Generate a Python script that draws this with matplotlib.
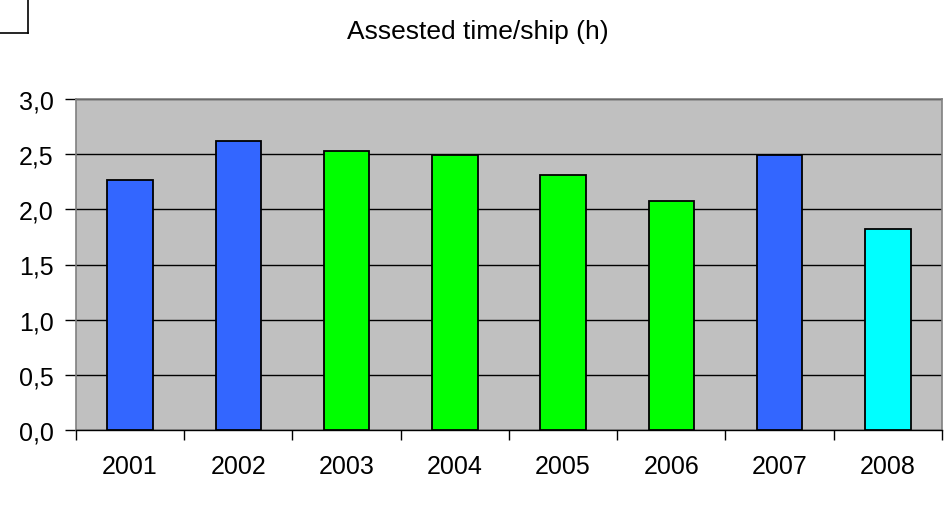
import matplotlib
matplotlib.use("Agg")
import matplotlib.pyplot as plt
from matplotlib.lines import Line2D
import numpy as np

plt.rcParams["font.family"] = ["Liberation Sans", "DejaVu Sans"]

# ── data ────────────────────────────────────────────
years = ["2001", "2002", "2003", "2004", "2005", "2006", "2007", "2008"]
hours = [2.27, 2.62, 2.53, 2.49, 2.31, 2.08, 2.49, 1.82]
bar_colors = ["#3366FF", "#3366FF", "#00FF00", "#00FF00",
              "#00FF00", "#00FF00", "#3366FF", "#00FFFF"]
yticks = [0.0, 0.5, 1.0, 1.5, 2.0, 2.5, 3.0]

W, H = 945, 506
fig = plt.figure(figsize=(W / 100, H / 100), dpi=100)
ax = fig.add_axes([76 / W, 1 - 431 / H, (942 - 76) / W, (431 - 100) / H])
ax.set_facecolor("#C0C0C0")

x = np.arange(len(years))
ax.set_axisbelow(True)
ax.yaxis.grid(True, color="black", lw=1.0)
ax.bar(x, hours, width=0.42, color=bar_colors, edgecolor="black", lw=1.3, zorder=3)

ax.set_xlim(-0.5, len(years) - 0.5)
ax.set_ylim(0, 3.0)
ax.set_yticks(yticks)
ax.set_yticklabels([f"{v:.1f}".replace(".", ",") for v in yticks])

# category labels centred, tick marks between categories
ax.set_xticks(x)
ax.set_xticklabels(years)
ax.set_xticks(np.arange(-0.5, len(years)), minor=True)
ax.tick_params(axis="x", which="major", length=0, pad=17, labelsize=18)
ax.tick_params(axis="x", which="minor", length=7, width=1, color="black", direction="out")
ax.tick_params(axis="y", length=8, width=1, color="black", pad=8, labelsize=18)

for side in ("top", "right", "left"):
    ax.spines[side].set_color("#808080")
    ax.spines[side].set_linewidth(1.2)
ax.spines["bottom"].set_color("black")
ax.spines["bottom"].set_linewidth(1.0)

fig.text(478 / W, 1 - 32 / H, "Assested time/ship (h)", ha="center", va="center",
         fontsize=19)

# corner of the legend frame at top left
fig.add_artist(Line2D([28 / W, 28 / W], [1.0, 1 - 34 / H], transform=fig.transFigure,
                      color="black", lw=1.2))
fig.add_artist(Line2D([0, 28 / W], [1 - 34 / H, 1 - 34 / H], transform=fig.transFigure,
                      color="black", lw=1.2))

fig.savefig("out.png", dpi=100)
